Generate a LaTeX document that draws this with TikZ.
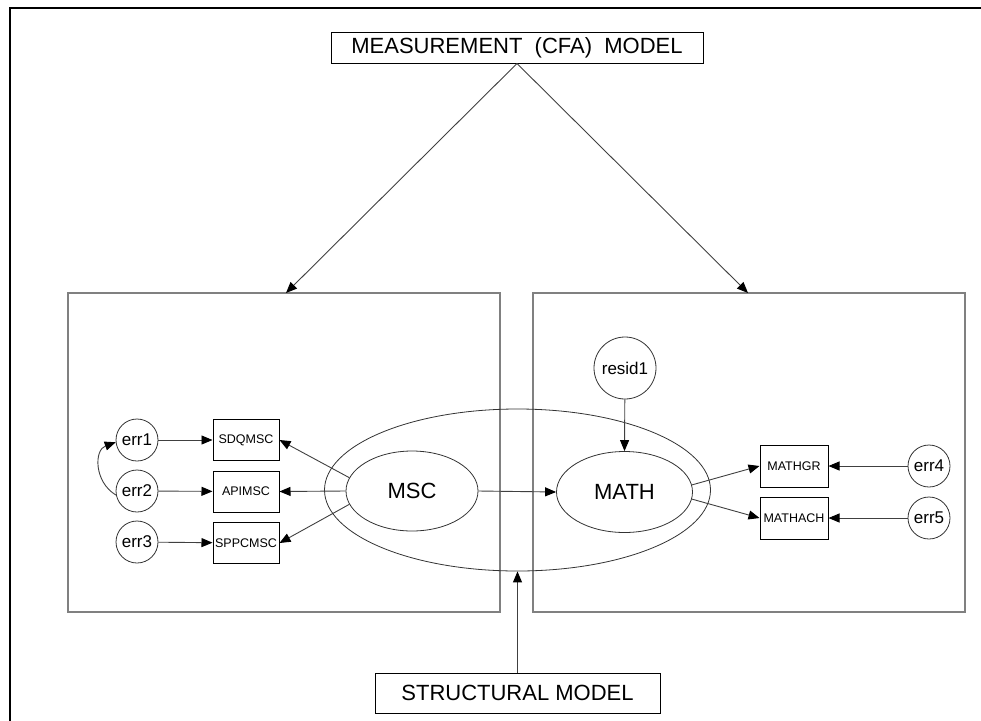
\documentclass[tikz,border=0pt]{standalone}
\usepackage{fontspec}
\setmainfont{Liberation Sans}
\usetikzlibrary{arrows.meta,shapes.geometric}
\begin{document}
\begin{tikzpicture}[x=1pt,y=-1pt,
 arr/.style={-{Triangle[length=11pt,width=9pt,color=black]}, line width=0.9pt, draw=black!75},
 panel/.style={draw=black!50, line width=1.4pt, minimum width=432pt, minimum height=319pt, inner sep=0pt},
 titlebox/.style={draw, line width=1pt, font=\fontsize{22}{26}\selectfont, inner sep=0pt},
 lat/.style={ellipse, draw=black!80, line width=0.8pt, minimum width=132pt, minimum height=80pt, inner sep=0pt, font=\fontsize{22}{26}\selectfont},
 errc/.style={circle, draw=black!80, line width=0.8pt, minimum size=42pt, inner sep=0pt, font=\fontsize{17}{20}\selectfont},
 ind/.style={draw, line width=1pt, minimum width=66pt, minimum height=41pt, inner sep=0pt, font=\fontsize{12.5}{15}\selectfont},
]
\useasboundingbox (0,0) rectangle (981,720);
% outer frame
\draw[line width=2pt] (10,721) -- (10,8) -- (982,8);
% panels
\node[panel] (lp) at (284,452.5) {};
\node[panel] (rp) at (749,452.5) {};
% titles
\node[titlebox, minimum width=372pt, minimum height=31pt] (meas) at (517,47.5) {MEASUREMENT\ \ (CFA)\ \ MODEL};
\node[titlebox, minimum width=285pt, minimum height=40pt] (struct) at (517.5,693) {STRUCTURAL MODEL};
% big ellipse
\node[ellipse, draw=black!80, line width=0.8pt, minimum width=386pt, minimum height=162pt, inner sep=0pt] (big) at (517.5,490) {};
% latent variables
\node[lat] (msc) at (412,491) {MSC};
\node[lat, minimum width=136pt, minimum height=81pt] (math) at (624.5,492) {MATH};
\node[errc, minimum size=62pt] (resid) at (625,368) {resid1};
% indicators left
\node[ind] (sdq) at (246,440) {SDQMSC};
\node[ind] (api) at (246,491.5) {APIMSC};
\node[ind] (sppc) at (246,543) {SPPCMSC};
\node[errc] (e1) at (137,440) {err1};
\node[errc] (e2) at (137,491) {err2};
\node[errc] (e3) at (137,542) {err3};
% indicators right
\node[ind, minimum width=68pt, minimum height=42pt] (mgr) at (794,466) {MATHGR};
\node[ind, minimum width=68pt, minimum height=42pt] (mach) at (794,518) {MATHACH};
\node[errc] (e4) at (929,466) {err4};
\node[errc] (e5) at (929,518) {err5};
% coordinates on panel tops
\coordinate (lt) at (286,293);
\coordinate (rt) at (748,293);
% connectors
\draw[arr] (meas.south) -- (lt);
\draw[arr] (meas.south) -- (rt);
\draw[arr] (struct.north) -- (big.south);
\draw[arr] (e1) -- (sdq);
\draw[arr] (e2) -- (api);
\draw[arr] (e3) -- (sppc);
\draw[arr] (msc.168) -- (sdq.east);
\draw[arr] (msc.west) -- (api.east);
\draw[arr] (msc.192) -- (sppc.east);
\draw[arr] (msc.east) -- (math.west);
\draw[arr] (resid) -- (math.north);
\draw[arr] (math.6) -- (mgr.west);
\draw[arr] (math.-6) -- (mach.west);
\draw[arr] (e4) -- (mgr);
\draw[arr] (e5) -- (mach);
\draw[arr] (e2.191) .. controls (94,482) and (94,450) .. (e1.186);
\end{tikzpicture}
\end{document}
